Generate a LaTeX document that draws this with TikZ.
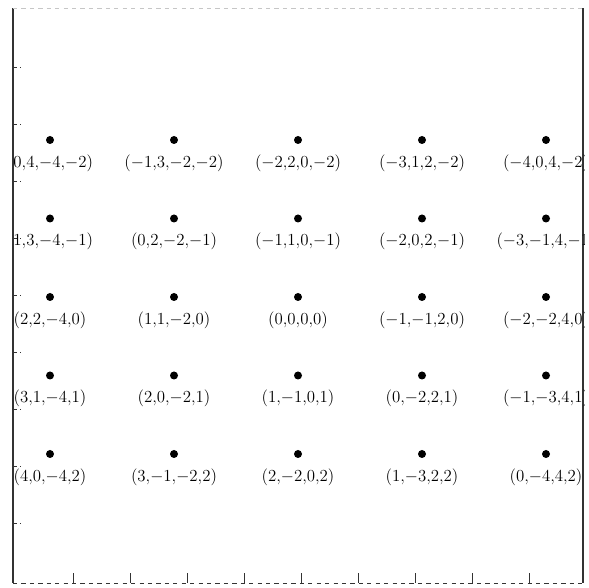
\documentclass[tikz,border=0pt]{standalone}
\usetikzlibrary{positioning}
\tikzset{
  latticept/.style={circle, fill=black, inner sep=0pt, minimum size=0.2cm},
  coordlabel/.style={inner sep=2pt, font=\large},
  frameside/.style={black!80, line width=1pt},
  tickmark/.style={black!80, line width=0.6pt}
}
\begin{document}
\begin{tikzpicture}
    \useasboundingbox (0,0) rectangle (14.725,14.7);

    % Frame corners
    \coordinate (sw) at (0.325,0.125);
    \coordinate (se) at (14.575,0.125);
    \coordinate (nw) at (0.325,14.5);
    \coordinate (ne) at (14.575,14.5);

    % Frame (left and right solid, bottom and top dashed)
    \draw[frameside] (sw) -- (nw);
    \draw[frameside] (se) -- (ne);
    \draw[tickmark, dashed] (sw) -- (se);
    \draw[gray!45, dashed] (nw) -- (ne);

    % Ticks on the bottom and on the left
    \foreach \k in {0,...,8} {
      \draw[tickmark] ({1.825+1.425*\k},0.125) -- ++(0,0.25);
      \draw[tickmark, densely dashed] (0.325,{13.025-1.425*\k}) -- ++(0.2,0);
    }

    % Lattice points
    \foreach \r in {0,...,4} {
      \foreach \c in {0,...,4} {
        \node[latticept] (d\r\c) at ({1.25+3.1*\c},{11.2-1.9625*\r}) {};
      }
    }

    % Their coordinates, cut off by the frame
    \begin{scope}
      \clip (0.325,0) rectangle (14.6,14.7);
      \foreach \r in {0,...,4} {
        \foreach \c in {0,...,4} {
          \pgfmathtruncatemacro{\pa}{\r-\c}
          \pgfmathtruncatemacro{\pb}{4-\r-\c}
          \pgfmathtruncatemacro{\pc}{2*\c-4}
          \pgfmathtruncatemacro{\pd}{\r-2}
          \node[coordlabel, below=5pt of d\r\c] (l\r\c) {$({\pa}{,}{\pb}{,}{\pc}{,}{\pd})$};
        }
      }
    \end{scope}
  \end{tikzpicture}
\end{document}
